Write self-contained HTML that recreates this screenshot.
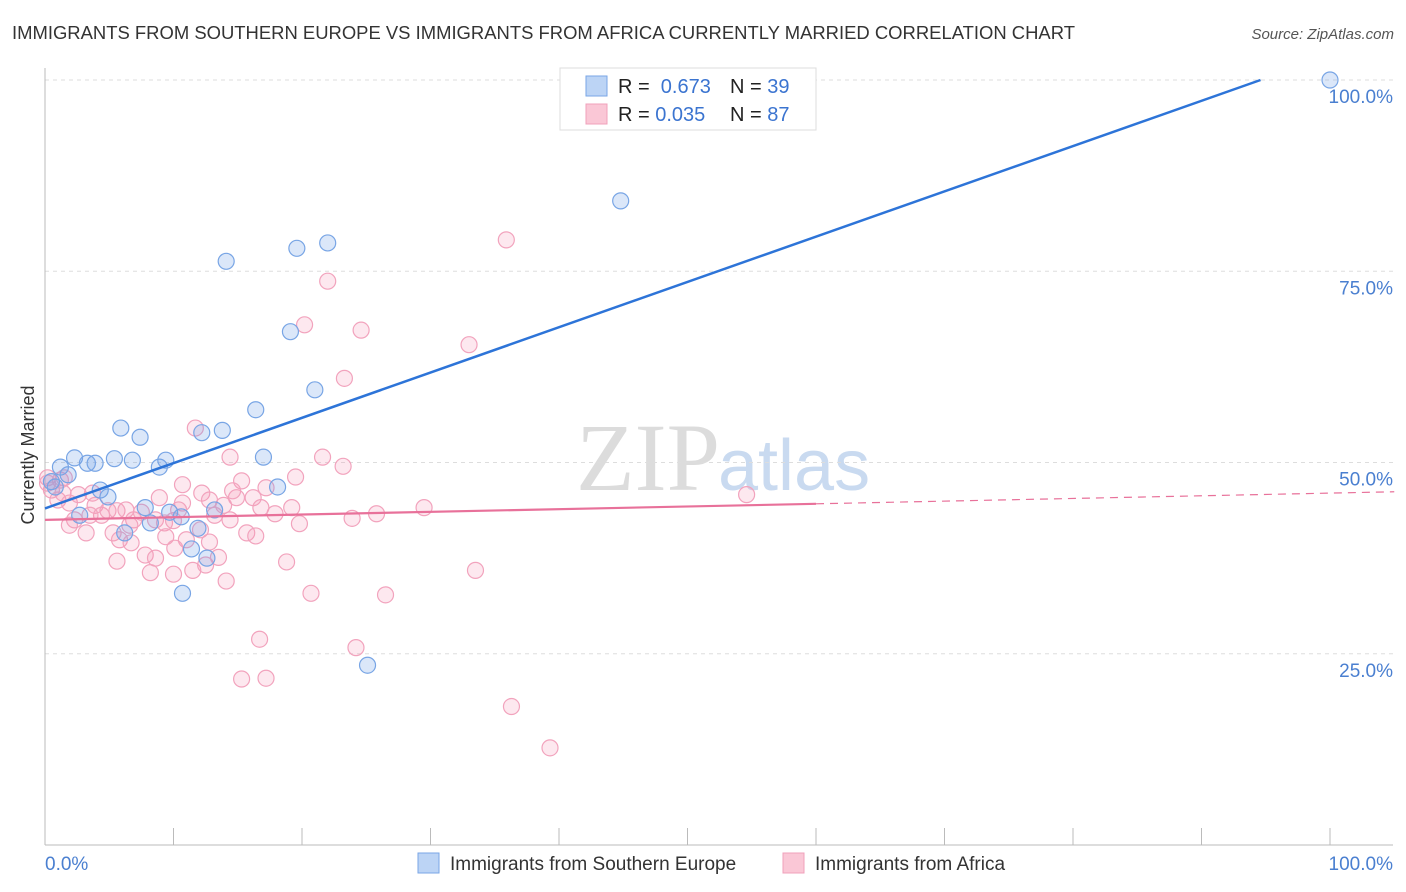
<!DOCTYPE html>
<html><head><meta charset="utf-8"><style>
body{margin:0;background:#fff;font-family:"Liberation Sans",sans-serif;}
svg{display:block}
</style></head><body>
<svg id="c" width="1406" height="892">
<text x="12" y="39" font-size="18.45" fill="#333">IMMIGRANTS FROM SOUTHERN EUROPE VS IMMIGRANTS FROM AFRICA CURRENTLY MARRIED CORRELATION CHART</text>
<text x="1394" y="39" font-size="15" fill="#555" font-style="italic" text-anchor="end">Source: ZipAtlas.com</text>
<text x="720" y="490" font-size="96" fill="#dcdcdc" text-anchor="end" font-family="Liberation Serif">ZIP</text>
<text x="718" y="490" font-size="72" fill="#c9daf0">atlas</text>
<text transform="translate(34,455) rotate(-90)" font-size="18" fill="#333" text-anchor="middle">Currently Married</text>
<g id="grid"></g><g id="axes"></g><g id="pts"></g><g id="lines"></g>
<g>
<rect x="560" y="68" width="256" height="62" fill="#fff" stroke="#ddd"/>
<rect x="586" y="76" width="21" height="20" fill="#bcd4f5" stroke="#7aa6e6"/>
<rect x="586" y="104" width="21" height="20" fill="#fac7d6" stroke="#f0a0bb"/>
<text x="618" y="93" font-size="20" fill="#222">R = <tspan fill="#3b74d0">&#160;0.673</tspan></text>
<text x="730" y="93" font-size="20" fill="#222">N = <tspan fill="#3b74d0">39</tspan></text>
<text x="618" y="121" font-size="20" fill="#222">R = <tspan fill="#3b74d0">0.035</tspan></text>
<text x="730" y="121" font-size="20" fill="#222">N = <tspan fill="#3b74d0">87</tspan></text>
</g>
<g>
<rect x="418" y="853" width="21" height="20" fill="#bcd4f5" stroke="#7aa6e6"/>
<text x="450" y="870" font-size="19" fill="#333">Immigrants from Southern Europe</text>
<rect x="783" y="853" width="21" height="20" fill="#fac7d6" stroke="#f0a0bb"/>
<text x="815" y="870" font-size="19" fill="#333">Immigrants from Africa</text>
</g>
</svg>
<script>
const blueX=[100,44.8,14.1,19.6,22.0,19.1,21.0,16.4,5.9,7.4,12.2,13.8,17.0,1.2,2.3,3.3,3.9,5.4,6.8,8.9,9.4,1.8,0.5,0.8,4.3,4.9,18.1,7.8,9.7,10.6,2.7,8.2,6.2,13.2,11.9,11.4,12.6,10.7,25.1];
const blueY=[100,84.2,76.3,78.0,78.7,67.1,59.5,56.9,54.5,53.3,53.9,54.2,50.7,49.4,50.6,49.9,49.9,50.5,50.3,49.4,50.3,48.4,47.5,46.8,46.4,45.5,46.8,44.1,43.5,42.9,43.1,42.1,40.8,43.8,41.4,38.7,37.5,32.9,23.5];
const pinkX=[35.9,22.0,20.2,24.6,33.0,23.3,11.7,14.4,21.6,23.2,19.5,15.3,54.6,29.5,25.8,23.9,17.2,16.2,14.9,14.6,12.2,10.7,8.9,10.7,13.9,13.2,16.8,17.9,19.2,19.8,0.2,0.5,1.0,1.4,1.9,2.6,3.7,3.9,4.4,4.9,2.3,1.9,3.2,5.6,6.3,6.9,7.5,8.6,9.3,10.0,10.4,11.0,12.1,12.8,5.3,5.8,6.7,7.8,8.6,9.4,10.1,11.5,12.5,13.5,15.7,16.4,5.6,8.2,10.0,14.1,18.8,20.7,26.5,33.5,16.7,24.2,15.3,17.2,36.3,39.3,14.4,12.8,3.5,6.6,1.2,0.2,1.5];
const pinkY=[79.1,73.7,68.0,67.3,65.4,61.0,54.5,50.7,50.7,49.5,48.1,47.6,45.8,44.1,43.3,42.7,46.7,45.4,45.4,46.3,46.0,47.1,45.4,44.7,44.4,43.1,44.1,43.3,44.1,42.0,48.0,46.4,45.1,46.0,44.7,45.8,46.0,44.4,43.1,43.7,42.5,41.8,40.8,43.7,43.8,42.5,43.5,42.5,42.1,42.4,43.8,39.9,41.2,39.6,40.8,39.9,39.5,37.9,37.5,40.3,38.8,35.9,36.6,37.6,40.8,40.4,37.1,35.6,35.4,34.5,37.0,32.9,32.7,35.9,26.9,25.8,21.7,21.8,18.1,12.7,42.5,45.1,43.1,41.8,47.7,47.3,48.0];
const yTicks=[25,50,75,100];
const yTickLabels=["25.0%","50.0%","75.0%","100.0%"];
const blueTrend=[44.0,103.2];
const pinkTrend=[42.5,46.0];
const NS="http://www.w3.org/2000/svg";
const X=v=>45+v*12.85, Y=v=>845-v*7.65;
function mk(t,a,p){const e=document.createElementNS(NS,t);for(const k in a)e.setAttribute(k,a[k]);document.getElementById(p).appendChild(e);return e;}
yTicks.forEach((t,i)=>{
 const g=mk('line',{x1:45,x2:1393,y1:Y(t),y2:Y(t),stroke:'#ddd','stroke-dasharray':'4,4'},'grid');
 
 
 const l=mk('text',{x:1393,y:Y(t)+23,'font-size':19,fill:'#4a7fd0','text-anchor':'end'},'grid');
 l.textContent=yTickLabels[i];
 
 
});
mk('line',{x1:45,x2:45,y1:68,y2:845,stroke:'#bbb'},'axes');
mk('line',{x1:45,x2:1393,y1:845,y2:845,stroke:'#bbb'},'axes');
for(let i=0;i<=10;i++){const t=mk('line',{x1:X(i*10),x2:X(i*10),y1:828,y2:845,stroke:'#bbb'},'axes');
 
 }
let t1=mk('text',{x:45,y:870,'font-size':19,fill:'#4a7fd0'},'axes');t1.textContent='0.0%';


let t2=mk('text',{x:1393,y:870,'font-size':19,fill:'#4a7fd0','text-anchor':'end'},'axes');t2.textContent='100.0%';


pinkX.forEach((x,i)=>{const c=mk('circle',{cx:X(x),cy:Y(pinkY[i]),r:8,fill:'rgba(245,150,180,0.22)',stroke:'#f2a3bd','stroke-width':1.2},'pts');
 
 });
blueX.forEach((x,i)=>{const c=mk('circle',{cx:X(x),cy:Y(blueY[i]),r:8,fill:'rgba(110,160,230,0.25)',stroke:'#78a5e5','stroke-width':1.2},'pts');
 
 });
const bx2=(100-blueTrend[0])/(blueTrend[1]-blueTrend[0])*100;
let bl=mk('line',{x1:X(0),y1:Y(blueTrend[0]),x2:X(bx2),y2:Y(100),stroke:'#2d74d8','stroke-width':2.5},'lines');


const pm=v=>pinkTrend[0]+(pinkTrend[1]-pinkTrend[0])*v/100;
let pl=mk('line',{x1:X(0),y1:Y(pinkTrend[0]),x2:X(60),y2:Y(pm(60)),stroke:'#e8719a','stroke-width':2.2},'lines');


let pd=mk('line',{x1:X(60),y1:Y(pm(60)),x2:X(105),y2:Y(pm(105)),stroke:'#e8719a','stroke-width':1.2,'stroke-dasharray':'8,6'},'lines');


</script>
</body></html>
